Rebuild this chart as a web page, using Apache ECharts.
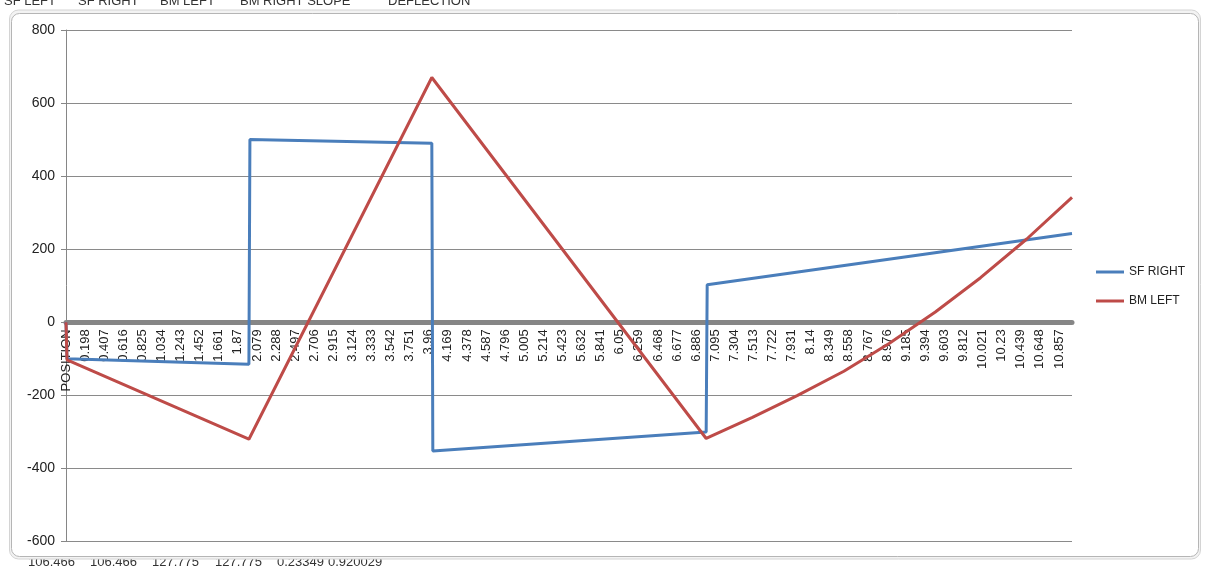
<!DOCTYPE html>
<html>
<head>
<meta charset="utf-8">
<script src="https://cdn.jsdelivr.net/npm/echarts@6/dist/echarts.min.js"></script>
<style>
  html, body { margin: 0; padding: 0; background: #ffffff; }
  #chart { width: 1208px; height: 567px; }
</style>
</head>
<body>
<div id="chart"></div>
<script>
// Beam positions along the span: header cell first, then 0 .. 11 in steps of 0.011
const POSITION_STEP = 0.011;
const positionCategories = ['POSITION'];
for (let k = 0; k <= 1000; k++) {
  positionCategories.push(String(Number((k * POSITION_STEP).toFixed(3))));
}

// Shear force (right face) at its break points along the beam
const sfPositions = [0, 1.991, 2.002, 3.993, 4.004, 6.996, 7.007, 11.0];
const sfValues    = [-100, -115, 500, 490, -352, -300, 103, 243];

// Bending moment (left face) along the beam
const bmPositions = [0, 1.991, 3.993, 6.996, 7.5, 8.0, 8.5, 9.0, 9.5, 10.0, 10.5, 11.0];
const bmValues    = [-103, -320, 670, -318, -260, -200, -134, -58, 28, 122, 228, 342];

// Header row cell (text in the series columns plots as zero)
const headerValue = 0;

// Value axis range
const Y_MIN = -600, Y_MAX = 800, Y_STEP = 200;

// Spreadsheet cells around the chart object
const headerCells = [['SF LEFT', 4], ['SF RIGHT', 78], ['BM LEFT', 160], ['BM RIGHT SLOPE', 240], ['DEFLECTION', 388]];
const footerCells = [['106.466', 28], ['106.466', 90], ['127.775', 152], ['127.775', 215], ['0.23349', 277], ['0.920029', 328]];

function toIndex(pos) { return Math.round(pos / POSITION_STEP) + 1; }
function buildSeries(positions, values) {
  const out = [[0, headerValue]];
  positions.forEach((p, i) => out.push([toIndex(p), values[i]]));
  return out;
}

const chart = echarts.init(document.getElementById('chart'), null, { renderer: 'canvas' });

// Plot box
const PLOT_TOP = 30, PLOT_BOTTOM = 25.5, PLOT_LEFT = 66, PLOT_RIGHT = 136;
const plotHeight = 567 - PLOT_TOP - PLOT_BOTTOM;
// Height from the top of the plot down to the zero line; the category labels hang from there
const zeroOffset = plotHeight * Y_MAX / (Y_MAX - Y_MIN);

const cellFont = '13px "Liberation Sans", Arial, sans-serif';
const graphics = [];
headerCells.forEach(([t, x]) => graphics.push({
  type: 'text', z: -30, left: x, top: -5,
  style: { text: t, font: cellFont, fill: '#333' }
}));
footerCells.forEach(([t, x]) => graphics.push({
  type: 'text', z: -30, left: x, top: 556,
  style: { text: t, font: cellFont, fill: '#333' }
}));
graphics.push({
  type: 'rect', z: -20,
  shape: { x: 9.5, y: 10, width: 1191, height: 549, r: 9 },
  style: { fill: '#f3f3f3', stroke: '#d4d4d4', lineWidth: 1 }
});
graphics.push({
  type: 'rect', z: -10,
  shape: { x: 11.5, y: 13.5, width: 1187, height: 543, r: 8 },
  style: { fill: '#ffffff', stroke: '#b5b5b5', lineWidth: 1 }
});

const labelStyle = {
  interval: 18, rotate: 90, margin: 7, hideOverlap: false,
  fontFamily: '"Liberation Sans", Arial, sans-serif', fontSize: 13, color: '#222'
};

chart.setOption({
  animation: false,
  backgroundColor: '#ffffff',
  graphic: graphics,
  grid: [
    { left: PLOT_LEFT, right: PLOT_RIGHT, top: PLOT_TOP, bottom: PLOT_BOTTOM, containLabel: false, outerBoundsMode: 'none' },
    { left: PLOT_LEFT, right: PLOT_RIGHT, top: PLOT_TOP, height: zeroOffset, containLabel: false, outerBoundsMode: 'none' }
  ],
  legend: {
    data: ['SF RIGHT', 'BM LEFT'],
    orient: 'vertical',
    left: 1091, top: 261,
    itemWidth: 28, itemHeight: 3, itemGap: 17,
    icon: 'rect',
    textStyle: { fontFamily: '"Liberation Sans", Arial, sans-serif', fontSize: 12, color: '#222' }
  },
  xAxis: [
    {
      type: 'category', gridIndex: 0,
      data: positionCategories,
      boundaryGap: false,
      axisLine: { onZero: true, lineStyle: { color: '#868686', width: 5 } },
      axisTick: { show: false },
      splitLine: { show: false },
      axisLabel: { show: false }
    },
    {
      // label row that hangs from the zero line
      type: 'category', gridIndex: 1,
      data: positionCategories,
      boundaryGap: false,
      axisLine: { show: false },
      axisTick: { show: false },
      splitLine: { show: false },
      axisLabel: labelStyle
    }
  ],
  yAxis: [
    {
      type: 'value', gridIndex: 0,
      min: Y_MIN, max: Y_MAX, interval: Y_STEP,
      axisLine: { show: true, onZero: false, lineStyle: { color: '#868686', width: 1 } },
      axisTick: { show: true, length: 5, lineStyle: { color: '#868686' } },
      splitLine: { show: true, lineStyle: { color: '#8a8a8a', width: 1 } },
      axisLabel: {
        margin: 11,
        fontFamily: '"Liberation Sans", Arial, sans-serif', fontSize: 14, color: '#222'
      }
    },
    { type: 'value', gridIndex: 1, show: false, min: 0, max: Y_MAX }
  ],
  series: [
    {
      name: 'SF RIGHT', type: 'line', data: buildSeries(sfPositions, sfValues),
      showSymbol: false, color: '#4a7ebb',
      lineStyle: { width: 3, color: '#4a7ebb' }
    },
    {
      name: 'BM LEFT', type: 'line', data: buildSeries(bmPositions, bmValues),
      showSymbol: false, color: '#be4b48',
      lineStyle: { width: 3, color: '#be4b48' }
    }
  ]
});
</script>
</body>
</html>
